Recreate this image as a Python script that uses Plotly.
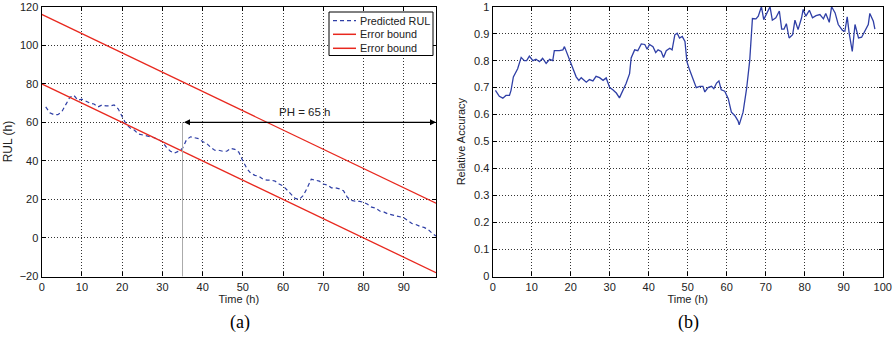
import plotly.graph_objects as go

# ---- Data (a) ----
t_pred = list(range(1, 99))
rul_pred = [68, 65, 64, 64, 65.5, 69, 73, 74, 71.5, 72, 71, 70, 69.5, 68, 69, 68.5, 68.5, 69, 67, 63,
            59, 57, 56, 54, 53.5, 53, 52.5, 52, 51, 50, 47, 45, 44, 45, 46.5, 51, 52.5, 52, 51.5, 50,
            49, 47, 45.5, 45.5, 45, 45, 46.5, 46, 44.5, 40, 36, 33.5, 32.5, 32, 30.5, 30, 30, 29.5, 28, 27,
            25, 22.5, 20.5, 20, 22, 26, 30.5, 30, 29.5, 28, 27.5, 26, 26, 25.5, 24.5, 21, 19.5, 19, 19, 18.5,
            17.5, 16, 15.5, 14, 13.5, 12.5, 12, 11.5, 11, 10.5, 9, 7.5, 7, 6, 5.5, 4.5, 2.5, 1]
t_bound = [0, 98]
upper_bound = [116, 18]
lower_bound = [80, -18]
ph_start, ph_end, ph_level = 35, 98, 60
legend_labels = ["Predicted RUL", "Error bound", "Error bound"]

# ---- Data (b) ----
t_ra = [0.7, 1.7, 2.6, 3.4, 4.3, 4.7, 5.3, 6.4, 7.3, 8.1, 8.7, 9.4, 10.3, 11.1, 12, 12.8, 13.7, 14.6, 15.4,
        15.8, 17.1, 18, 18.4, 19.3, 19.9, 20.5, 21.4, 22.1, 22.7, 24, 24.8, 25.7, 26.5, 27.4, 28.3, 29.1,
        30, 30.8, 31.7, 32.5, 33.4, 34.2, 35.1, 35.5, 36.4, 37.2, 38.1, 39, 39.6, 40.2, 41.1, 41.8, 42.4,
        43.2, 43.8, 44.5, 45.4, 46, 46.7, 47.3, 47.9, 48.6, 49.3, 49.8, 50.5, 51.4, 52.2, 53.1, 53.9, 54.4,
        55.2, 56.1, 56.7, 57.4, 58, 58.6, 59.5, 60.4, 61.2, 62.1, 62.9, 63.2, 64.2, 65.1, 65.9, 66.6, 67.5,
        68.1, 68.9, 69.5, 70.2, 71.1, 71.7, 72.6, 73.5, 74.1, 74.7, 75.3, 76, 76.9, 77.5, 78.3, 79.2, 79.6,
        80.3, 81.2, 82, 82.9, 83.9, 84.8, 85.4, 86.3, 86.9, 87.8, 88.6, 89.7, 90.3, 90.9, 91.4, 92.2, 92.9,
        93.8, 94.6, 95.5, 96.3, 96.7, 97.6, 98]
ra = [0.69, 0.668, 0.661, 0.671, 0.671, 0.69, 0.74, 0.77, 0.812, 0.80, 0.80, 0.817, 0.80, 0.805, 0.796,
      0.809, 0.79, 0.805, 0.80, 0.837, 0.837, 0.84, 0.852, 0.82, 0.796, 0.777, 0.74, 0.727, 0.737, 0.72,
      0.73, 0.725, 0.742, 0.737, 0.727, 0.736, 0.70, 0.692, 0.68, 0.662, 0.69, 0.715, 0.752, 0.81, 0.84,
      0.837, 0.862, 0.86, 0.842, 0.86, 0.852, 0.83, 0.84, 0.834, 0.812, 0.837, 0.846, 0.84, 0.896, 0.902,
      0.884, 0.89, 0.871, 0.796, 0.765, 0.727, 0.70, 0.705, 0.705, 0.684, 0.70, 0.705, 0.696, 0.717, 0.725,
      0.692, 0.687, 0.659, 0.609, 0.596, 0.577, 0.562, 0.609, 0.696, 0.80, 0.956, 0.955, 0.965, 1.0, 0.952,
      0.971, 1.0, 0.95, 0.959, 0.984, 0.917, 0.917, 0.937, 0.884, 0.896, 0.95, 0.915, 0.959, 0.99, 0.965,
      0.987, 0.959, 0.967, 0.971, 0.955, 0.975, 0.942, 1.0, 0.977, 0.934, 0.912, 0.909, 0.962, 0.902, 0.834,
      0.934, 0.884, 0.887, 0.909, 0.934, 0.975, 0.946, 0.917]

left_yticks = [-20, 0, 20, 40, 60, 80, 100, 120]
left_xticks = [0, 10, 20, 30, 40, 50, 60, 70, 80, 90]
right_yticks = [0, 0.1, 0.2, 0.3, 0.4, 0.5, 0.6, 0.7, 0.8, 0.9, 1]
right_ytext = ["0", "0.1", "0.2", "0.3", "0.4", "0.5", "0.6", "0.7", "0.8", "0.9", "1"]
right_xticks = [0, 10, 20, 30, 40, 50, 60, 70, 80, 90, 100]

BLUE = "#2f3fa6"
RED = "#e8281e"
FONT = "Liberation Sans Narrow, Arial Narrow, Liberation Sans, Arial"
SANS = "Liberation Sans, Arial"
DASH = "4px,3px"

fig = go.Figure()
fig.add_trace(go.Scatter(x=t_pred, y=rul_pred, mode="lines", name=legend_labels[0],
                         line=dict(color=BLUE, width=1.2, dash=DASH), xaxis="x", yaxis="y"))
fig.add_trace(go.Scatter(x=t_bound, y=upper_bound, mode="lines", name=legend_labels[1],
                         line=dict(color=RED, width=1.3), xaxis="x", yaxis="y"))
fig.add_trace(go.Scatter(x=t_bound, y=lower_bound, mode="lines", name=legend_labels[2],
                         line=dict(color=RED, width=1.3), xaxis="x", yaxis="y"))
fig.add_trace(go.Scatter(x=t_ra, y=ra, mode="lines",
                         line=dict(color=BLUE, width=1.3), xaxis="x2", yaxis="y2"))

W, H = 896, 338
ytop, ybot = 1 - 6.7 / H, 1 - 276.5 / H

axis_common = dict(showline=True, linecolor="black", linewidth=1.3, mirror="ticks",
                   ticks="inside", ticklen=4, tickcolor="black", automargin=False,
                   showgrid=True, gridcolor="#333", griddash="1px,2px", gridwidth=0.8,
                   zeroline=False, tickfont=dict(family=FONT, size=11, color="#222"))

fig.update_layout(
    width=W, height=H, margin=dict(l=0, r=0, t=0, b=0, autoexpand=False),
    paper_bgcolor="white", plot_bgcolor="white",
    font=dict(family=FONT, size=11, color="#222"),
    xaxis=dict(domain=[41.7 / W, 436 / W], range=[0, 98], tickvals=left_xticks,
               title=dict(text="Time (h)", standoff=2, font=dict(size=11)), anchor="y", **axis_common),
    yaxis=dict(domain=[ybot, ytop], range=[-20, 120], tickvals=left_yticks,
               title=dict(text="RUL (h)", standoff=4, font=dict(size=12, family=SANS)),
               anchor="x", **axis_common),
    xaxis2=dict(domain=[492.7 / W, 882.7 / W], range=[0, 100], tickvals=right_xticks,
                title=dict(text="Time (h)", standoff=2, font=dict(size=11)), anchor="y2", **axis_common),
    yaxis2=dict(domain=[ybot, ytop], range=[0, 1], tickvals=right_yticks, ticktext=right_ytext,
                title=dict(text="Relative Accuracy", standoff=6, font=dict(size=11, family=SANS)),
                anchor="x2", **axis_common),
    showlegend=False,
)

# manual legend box (pixel-placed in paper coords)
def px(x):
    return x / W

def py(y):
    return 1 - y / H

fig.add_shape(type="rect", xref="paper", yref="paper", x0=px(329), x1=px(433), y0=py(12), y1=py(55.5),
              line=dict(color="black", width=1), fillcolor="white", layer="above")
leg_rows = [20.7, 34.3, 48.3]
leg_styles = [dict(color=BLUE, width=1.2, dash=DASH), dict(color=RED, width=1.5), dict(color=RED, width=1.5)]
for row, lab, sty in zip(leg_rows, legend_labels, leg_styles):
    fig.add_shape(type="line", xref="paper", yref="paper", x0=px(333), x1=px(356), y0=py(row), y1=py(row),
                  line=sty, layer="above")
    fig.add_annotation(xref="paper", yref="paper", x=px(358), y=py(row), text=lab, showarrow=False,
                       xanchor="left", yanchor="middle", font=dict(family=SANS, size=10.8, color="#222"))

# vertical gray line at prediction start
fig.add_shape(type="line", xref="x", yref="y", x0=ph_start, x1=ph_start, y0=-20, y1=ph_level,
              line=dict(color="#aaaaaa", width=1))
# double-headed arrow
fig.add_annotation(xref="x", yref="y", axref="x", ayref="y", x=ph_end, y=ph_level,
                   ax=ph_start, ay=ph_level, text="", showarrow=True, arrowhead=2,
                   arrowside="end+start", arrowwidth=1.2, arrowsize=1, arrowcolor="black")
fig.add_annotation(xref="x", yref="y", x=65.4, y=ph_level, yshift=10, text="PH = 65 h",
                   showarrow=False, font=dict(family=SANS, size=11.5, color="#222"))

# panel labels
fig.add_annotation(xref="paper", yref="paper", x=px(240), y=py(322), text="(a)", showarrow=False,
                   xanchor="center", yanchor="middle",
                   font=dict(family="Liberation Serif, Times New Roman", size=18, color="black"))
fig.add_annotation(xref="paper", yref="paper", x=px(688), y=py(322), text="(b)", showarrow=False,
                   xanchor="center", yanchor="middle",
                   font=dict(family="Liberation Serif, Times New Roman", size=18, color="black"))

fig.write_html("out.html", config={"displayModeBar": False},
               post_script="document.body.style.margin='0px';document.body.style.overflow='hidden';")
